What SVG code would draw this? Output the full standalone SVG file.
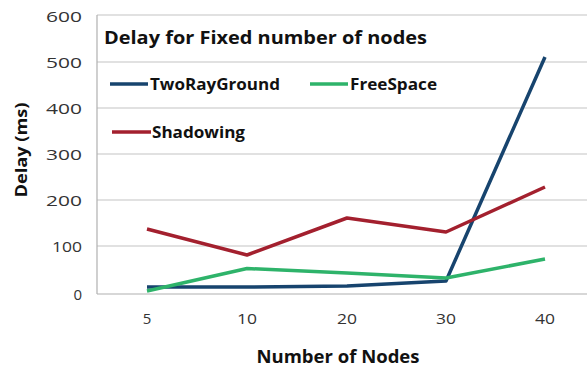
<svg xmlns="http://www.w3.org/2000/svg" width="587" height="369" viewBox="0 0 587 369">
<style>
.bg{fill:#ffffff}
.grid{stroke:#c4c4c4;stroke-width:1.2;fill:none}
.axis{stroke:#b0b0b0;stroke-width:1.2;fill:none}
.tick{font-family:"Open Sans","Liberation Sans",sans-serif;font-size:15px;fill:#333333}
.ttl{font-family:"Open Sans","Liberation Sans",sans-serif;font-weight:bold;fill:#111111}
.s{fill:none;stroke-width:3.5;stroke-linejoin:round;stroke-linecap:butt}
.blue{stroke:#17446e}
.green{stroke:#2eb36a}
.red{stroke:#a3202e}
</style>
<rect class="bg" x="0" y="0" width="587" height="369"/>
<g id="grid">
<line class="grid" x1="97" y1="15" x2="587" y2="15"/>
<line class="grid" x1="97" y1="62" x2="587" y2="62"/>
<line class="grid" x1="97" y1="108" x2="587" y2="108"/>
<line class="grid" x1="97" y1="154" x2="587" y2="154"/>
<line class="grid" x1="97" y1="200" x2="587" y2="200"/>
<line class="grid" x1="97" y1="246" x2="587" y2="246"/>
<line class="axis" x1="97" y1="294" x2="587" y2="294"/>
<line class="axis" x1="97" y1="15" x2="97" y2="294"/>
</g>
<g id="y-ticks">
<text class="tick" x="82" y="22" text-anchor="end" textLength="36" lengthAdjust="spacingAndGlyphs">600</text>
<text class="tick" x="82" y="68" text-anchor="end" textLength="36" lengthAdjust="spacingAndGlyphs">500</text>
<text class="tick" x="82" y="114" text-anchor="end" textLength="36" lengthAdjust="spacingAndGlyphs">400</text>
<text class="tick" x="82" y="160" text-anchor="end" textLength="36" lengthAdjust="spacingAndGlyphs">300</text>
<text class="tick" x="82" y="206" text-anchor="end" textLength="36" lengthAdjust="spacingAndGlyphs">200</text>
<text class="tick" x="82" y="252" text-anchor="end" textLength="30" lengthAdjust="spacingAndGlyphs">100</text>
<text class="tick" x="82" y="300" text-anchor="end">0</text>
</g>
<g id="x-ticks">
<text class="tick" x="147" y="324" text-anchor="middle">5</text>
<text class="tick" x="247" y="324" text-anchor="middle" textLength="20" lengthAdjust="spacingAndGlyphs">10</text>
<text class="tick" x="347" y="324" text-anchor="middle" textLength="20" lengthAdjust="spacingAndGlyphs">20</text>
<text class="tick" x="446" y="324" text-anchor="middle" textLength="20" lengthAdjust="spacingAndGlyphs">30</text>
<text class="tick" x="545" y="324" text-anchor="middle" textLength="20" lengthAdjust="spacingAndGlyphs">40</text>
</g>
<g id="titles">
<text class="ttl" x="104" y="44" font-size="18" textLength="323" lengthAdjust="spacingAndGlyphs">Delay for Fixed number of nodes</text>
<text class="ttl" x="338" y="363" font-size="17" text-anchor="middle" textLength="163" lengthAdjust="spacingAndGlyphs">Number of Nodes</text>
<text class="ttl" transform="translate(27,150) rotate(-90)" x="0" y="0" font-size="16" text-anchor="middle" textLength="95" lengthAdjust="spacingAndGlyphs">Delay (ms)</text>
</g>
<g id="series">
<polyline class="s blue" points="147,287 247,287 347,286 446,281 545,57"/>
<polyline class="s green" points="147,291 247,268.5 347,273 446,278 545,259"/>
<polyline class="s red" points="147,229 247,255 347,218 446,232 545,187"/>
</g>
<g id="legend">
<line class="s blue" x1="110" y1="84" x2="148" y2="84"/>
<text class="ttl" x="150" y="90" font-size="16" textLength="130" lengthAdjust="spacingAndGlyphs">TwoRayGround</text>
<line class="s green" x1="310" y1="84" x2="348" y2="84"/>
<text class="ttl" x="350" y="90" font-size="16" textLength="87" lengthAdjust="spacingAndGlyphs">FreeSpace</text>
<line class="s red" x1="112" y1="132" x2="151" y2="132"/>
<text class="ttl" x="152" y="138" font-size="16" textLength="93" lengthAdjust="spacingAndGlyphs">Shadowing</text>
</g>
</svg>
